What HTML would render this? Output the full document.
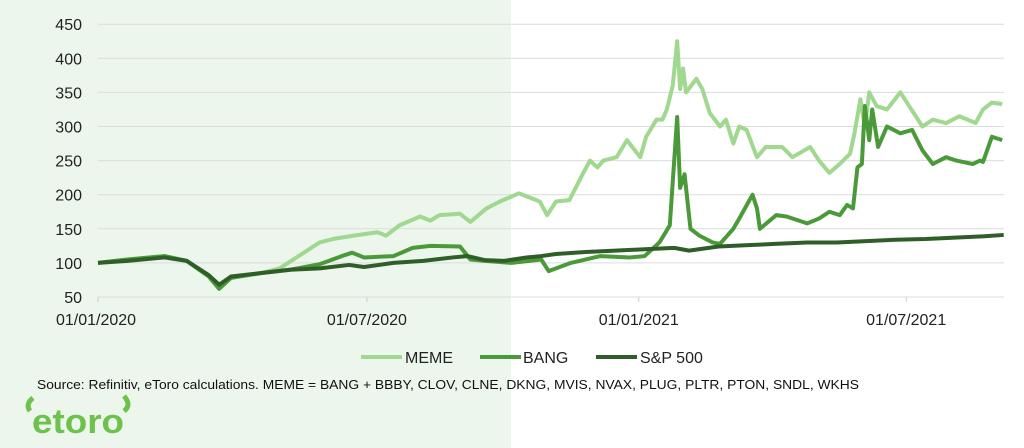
<!DOCTYPE html>
<html><head><meta charset="utf-8"><style>
body{margin:0;width:1024px;height:448px;overflow:hidden;background:#fff;font-family:"Liberation Sans",sans-serif}
svg{position:absolute;left:0;top:0}
</style></head><body>
<svg width="1024" height="448">
<rect x="0" y="0" width="511" height="448" fill="#edf6ec"/>
<g id="grid"></g>
<g id="ylab" font-size="16" fill="#222" text-anchor="end"></g>
<g id="xlab" font-size="16" fill="#222" text-anchor="middle"></g>
<g id="lines"></g>
<g font-size="16" fill="#222">
<g><line x1="361" y1="357" x2="402" y2="357" stroke="#9fd88e" stroke-width="4"/><text x="405" y="363">MEME</text></g>
<g><line x1="480" y1="357" x2="521" y2="357" stroke="#4a9a3a" stroke-width="4"/><text x="523" y="363">BANG</text></g>
<g><line x1="596" y1="357" x2="637" y2="357" stroke="#2f5e29" stroke-width="4"/><text x="640" y="363">S&amp;P 500</text></g>
</g>
<text x="37" y="389" font-size="13" fill="#111" textLength="822" lengthAdjust="spacingAndGlyphs">Source: Refinitiv, eToro calculations. MEME = BANG + BBBY, CLOV, CLNE, DKNG, MVIS, NVAX, PLUG, PLTR, PTON, SNDL, WKHS</text>
<g>
<text x="32" y="433" font-size="34" fill="#6cc24a" font-weight="bold" textLength="92" lengthAdjust="spacingAndGlyphs">etoro</text>
<path d="M30 411 q-5 -7 3 -13" stroke="#6cc24a" stroke-width="5" fill="none"/>
<path d="M124 411 q8 -6 0 -15" stroke="#6cc24a" stroke-width="5" fill="none"/>
</g>
</svg>
<script>
const yTicks=[50,100,150,200,250,300,350,400,450];
const xTickDays=[0,182,366,547];
const xTickLabels=["01/01/2020","01/07/2020","01/01/2021","01/07/2021"];
const spDays=[0,20,45,60,75,82,90,110,130,150,170,180,200,220,240,250,262,275,290,300,310,330,350,370,390,400,420,440,460,480,500,520,540,560,580,600,613];
const spVals=[100,103,108,103,82,68,80,85,90,92,97,94,100,103,108,110,104,103,108,110,113,116,118,120,122,118,124,126,128,130,130,132,134,135,137,139,141];
const bangDays=[0,20,45,60,75,82,90,110,130,150,165,172,180,200,213,225,245,252,262,280,300,305,320,340,360,370,380,387,392,394,397,401,407,416,421,430,434,443,446,448,459,466,480,488,495,502,507,511,514,517,519,522,524,528,534,543,551,558,565,574,581,592,597,599,605,612];
const bangVals=[100,105,110,103,80,62,78,85,90,98,110,115,108,110,122,125,124,105,103,100,105,88,100,110,108,110,130,155,314,210,230,150,140,130,128,150,165,200,180,150,170,168,158,165,175,170,185,180,240,245,330,280,325,270,300,290,295,265,245,255,250,245,250,248,285,280];
const memeDays=[0,20,45,60,75,82,90,110,123,150,159,173,189,195,204,218,225,231,245,252,263,272,285,299,304,310,319,328,333,338,342,351,358,367,371,378,382,385,389,392,394,396,398,405,409,414,421,425,430,434,439,446,452,463,470,482,488,495,502,509,512,516,519,522,527,534,543,549,558,565,574,583,594,599,605,612];
const memeVals=[100,105,110,103,80,64,78,85,92,130,135,140,145,140,155,168,162,170,172,160,180,190,202,190,170,190,192,230,250,240,250,255,280,255,285,310,310,325,360,425,355,385,350,370,355,320,300,310,275,300,295,255,270,270,255,270,250,232,245,260,290,340,300,350,330,325,350,330,300,310,305,315,305,325,335,333];
const X0=98,PXD=1.4775,Y0=297,PXV=0.682;
const xs=d=>X0+d*PXD, ys=v=>Y0-(v-50)*PXV;
const NS="http://www.w3.org/2000/svg";
function mk(t,a,p){const e=document.createElementNS(NS,t);for(const k in a)e.setAttribute(k,a[k]);p.appendChild(e);return e;}
const grid=document.getElementById('grid'),yl=document.getElementById('ylab'),xl=document.getElementById('xlab'),ln=document.getElementById('lines');
yTicks.forEach(v=>{
 const l=mk('line',{x1:X0,x2:1004,y1:ys(v),y2:ys(v),stroke:'#dcdcdc','stroke-width':1},grid);
 
 
 const t=mk('text',{x:82,y:ys(v)+6},yl);t.textContent=v;
 
 
});
xTickDays.forEach((d,i)=>{
 const tk=mk('line',{x1:xs(d),x2:xs(d),y1:Y0,y2:Y0+5,stroke:'#ccc'},grid);
 
 
 const t=mk('text',{x:xs(d)+(i==0?-2:0),y:325},xl);t.textContent=xTickLabels[i];
 
 
});
function series(days,vals,col,name){
 const p=mk('polyline',{points:days.map((d,i)=>xs(d)+','+ys(vals[i])).join(' '),fill:'none',stroke:col,'stroke-width':4,'stroke-linejoin':'round'},ln);
 
 
}
series(memeDays,memeVals,'#9fd88e','meme-line');
series(bangDays,bangVals,'#4a9a3a','bang-line');
series(spDays,spVals,'#2f5e29','sp500-line');
</script>
</body></html>
